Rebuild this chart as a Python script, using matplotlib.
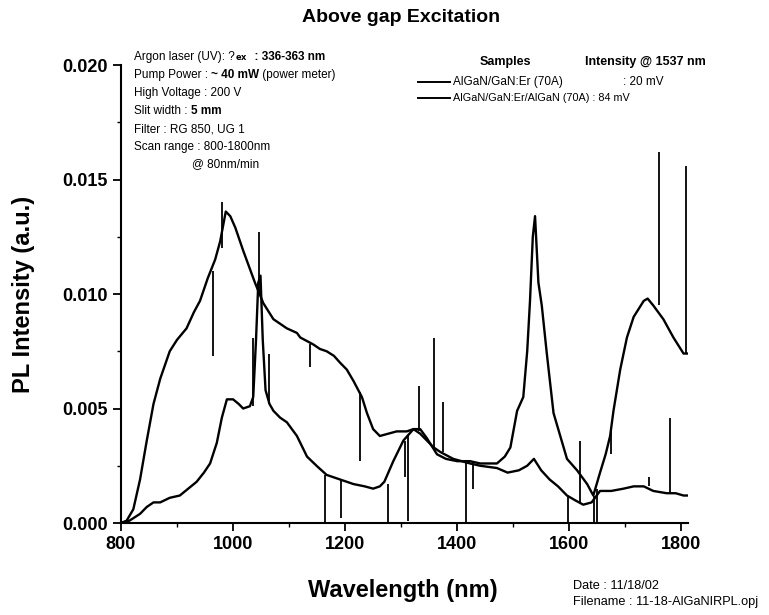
import numpy as np
import matplotlib.pyplot as plt
from matplotlib.lines import Line2D
from matplotlib.ticker import MultipleLocator, FormatStrFormatter

plt.rcParams['font.family'] = ['Liberation Sans', 'DejaVu Sans']

# AlGaN/GaN:Er (70A)  -> 20 mV @ 1537 nm
wl_a = [800, 810, 822, 834, 846, 858, 870, 887, 900, 917, 930, 941, 955, 968, 977,
        987, 995, 1004, 1018, 1027, 1039, 1054, 1072, 1084, 1096, 1114, 1120, 1143,
        1155, 1167, 1180, 1191, 1203, 1215, 1230, 1239, 1250, 1262, 1277, 1292, 1310,
        1322, 1334, 1346, 1358, 1370, 1393, 1423, 1441, 1471, 1490, 1510, 1525, 1537,
        1550, 1565, 1580, 1596, 1610, 1625, 1640, 1655, 1675, 1697, 1715, 1733, 1750,
        1774, 1790, 1804, 1810]
pl_a = [0.0000, 0.0001, 0.0006, 0.0019, 0.0036, 0.0052, 0.0063, 0.0075, 0.0080, 0.0085,
        0.0092, 0.0097, 0.0107, 0.0115, 0.0123, 0.0136, 0.0134, 0.0129, 0.0119, 0.0113,
        0.0105, 0.0096, 0.0089, 0.0087, 0.0085, 0.0083, 0.0081, 0.0078, 0.0076, 0.0075,
        0.0073, 0.0070, 0.0067, 0.0062, 0.0055, 0.0048, 0.0041, 0.0038, 0.0039, 0.0040,
        0.0040, 0.0041, 0.0039, 0.0036, 0.0033, 0.0031, 0.0028, 0.0026, 0.0025, 0.0024,
        0.0022, 0.0023, 0.0025, 0.0028, 0.0023, 0.0019, 0.0016, 0.0012, 0.0010, 0.0008,
        0.0009, 0.0014, 0.0014, 0.0015, 0.0016, 0.0016, 0.0014, 0.0013, 0.0013, 0.0012,
        0.0012]
spk_a_wl = [965, 980, 1047, 1137, 1227, 1331, 1359, 1374, 1415, 1429, 1598, 1620, 1743, 1780]
spk_a_lo = [0.0073, 0.0120, 0.0100, 0.0068, 0.0027, 0.0040, 0.0033, 0.0031, 0.0000, 0.0015,
            0.0000, 0.0009, 0.0016, 0.0013]
spk_a_hi = [0.0110, 0.0140, 0.0127, 0.0078, 0.0057, 0.0060, 0.0081, 0.0053, 0.0026, 0.0026,
            0.0012, 0.0036, 0.0020, 0.0046]

# AlGaN/GaN:Er/AlGaN (70A) -> 84 mV @ 1537 nm
wl_b = [800, 815, 834, 846, 858, 870, 887, 905, 920, 935, 948, 959, 971, 980, 989, 1000,
        1010, 1018, 1030, 1036, 1041, 1045, 1049, 1053, 1058, 1065, 1072, 1084, 1096, 1114,
        1132, 1149, 1167, 1191, 1215, 1235, 1250, 1262, 1270, 1286, 1304, 1322, 1334, 1346,
        1364, 1380, 1400, 1423, 1441, 1471, 1485, 1495, 1507, 1518, 1525, 1530, 1535, 1539,
        1545, 1551, 1560, 1572, 1584, 1596, 1614, 1632, 1643, 1655, 1665, 1673, 1679, 1691,
        1703, 1715, 1733, 1740, 1750, 1768, 1786, 1804, 1810]
pl_b = [0.0000, 0.0001, 0.0004, 0.0007, 0.0009, 0.0009, 0.0011, 0.0012, 0.0015, 0.0018,
        0.0022, 0.0026, 0.0035, 0.0046, 0.0054, 0.0054, 0.0052, 0.0050, 0.0051, 0.0055,
        0.0080, 0.0105, 0.0108, 0.0080, 0.0058, 0.0052, 0.0049, 0.0046, 0.0044, 0.0038,
        0.0029, 0.0025, 0.0021, 0.0019, 0.0017, 0.0016, 0.0015, 0.0016, 0.0018, 0.0027,
        0.0036, 0.0041, 0.0041, 0.0037, 0.0030, 0.0028, 0.0027, 0.0027, 0.0026, 0.0026,
        0.0029, 0.0033, 0.0049, 0.0055, 0.0075, 0.0097, 0.0125, 0.0134, 0.0105, 0.0095,
        0.0074, 0.0048, 0.0038, 0.0028, 0.0023, 0.0017, 0.0012, 0.0022, 0.0030, 0.0038,
        0.0049, 0.0067, 0.0081, 0.0090, 0.0097, 0.0098, 0.0095, 0.0089, 0.0081, 0.0074,
        0.0074]
spk_b_wl = [1036, 1065, 1164, 1193, 1276, 1307, 1312, 1645, 1650, 1675, 1760, 1808]
spk_b_lo = [0.0051, 0.0052, 0.0000, 0.0002, 0.0000, 0.0020, 0.0001, 0.0000, 0.0000, 0.0030,
            0.0095, 0.0074]
spk_b_hi = [0.0081, 0.0074, 0.0021, 0.0019, 0.0017, 0.0036, 0.0038, 0.0012, 0.0015, 0.0042,
            0.0162, 0.0156]

W, H = 769, 615


def fx(px):
    return px / W


def fy(py):
    return 1 - py / H


fig = plt.figure(figsize=(7.69, 6.15), dpi=100)
ax = fig.add_axes([fx(121), fy(523), fx(688) - fx(121), fy(65) - fy(523)])

ax.plot(wl_a, pl_a, color='black', lw=1.7)
ax.vlines(spk_a_wl, spk_a_lo, spk_a_hi, color='black', lw=1.3)
ax.plot(wl_b, pl_b, color='black', lw=1.7)
ax.vlines(spk_b_wl, spk_b_lo, spk_b_hi, color='black', lw=1.3)

ax.set_xlim(800, 1812)
ax.set_ylim(0, 0.020)
ax.spines['top'].set_visible(False)
ax.spines['right'].set_visible(False)
for s in ['left', 'bottom']:
    ax.spines[s].set_linewidth(1.5)
ax.xaxis.set_major_locator(MultipleLocator(200))
ax.xaxis.set_minor_locator(MultipleLocator(100))
ax.yaxis.set_major_locator(MultipleLocator(0.005))
ax.yaxis.set_minor_locator(MultipleLocator(0.0025))
ax.yaxis.set_major_formatter(FormatStrFormatter('%.3f'))
ax.tick_params(which='major', direction='out', length=6, width=1.3, labelsize=13)
ax.tick_params(which='minor', direction='out', length=3, width=1.0)
for lab in ax.get_xticklabels() + ax.get_yticklabels():
    lab.set_fontweight('bold')

fig.text(fx(401), fy(17), 'Above gap Excitation', ha='center', va='center',
         fontsize=14, fontweight='bold')
fig.text(fx(308), fy(597), 'Wavelength (nm)', ha='left', va='baseline',
         fontsize=17, fontweight='bold')
fig.text(fx(24), fy(294), 'PL Intensity (a.u.)', ha='center', va='center',
         rotation=90, fontsize=17, fontweight='bold')

fs = 8.5


def chain(x, y, parts, size=fs):
    # write text pieces one after another, (string, bold?) each
    t = fig.text(fx(x), fy(y), parts[0][0], fontsize=size, va='bottom', ha='left',
                 fontweight='bold' if parts[0][1] else 'normal')
    for s, b in parts[1:]:
        t = ax.annotate(s, xy=(1, 0), xycoords=t, va='bottom', ha='left', fontsize=size,
                        fontweight='bold' if b else 'normal')


chain(134, 63, [('Argon laser (UV): ?', False), (r'$_{\mathbf{ex}}$', True), ('  : 336-363 nm', True)])
chain(134, 81, [('Pump Power : ', False), ('~ 40 mW', True), (' (power meter)', False)])
chain(134, 99, [('High Voltage : 200 V', False)])
chain(134, 117, [('Slit width : ', False), ('5 mm', True)])
chain(134, 135, [('Filter : RG 850, UG 1', False)])
chain(134, 153, [('Scan range : 800-1800nm', False)])
chain(192, 170, [('@ 80nm/min', False)])

# legend block
fig.text(fx(480), fy(62), 'Samples', fontsize=9, fontweight='bold', va='center')
fig.text(fx(585), fy(62), 'Intensity @ 1537 nm', fontsize=9, fontweight='bold', va='center')
fig.add_artist(Line2D([fx(418), fx(450)], [fy(82), fy(82)], color='black', lw=1.4))
fig.add_artist(Line2D([fx(418), fx(450)], [fy(98), fy(98)], color='black', lw=1.4))
fig.text(fx(453), fy(82), 'AlGaN/GaN:Er (70A)', fontsize=8.5, va='center')
fig.text(fx(623), fy(82), ': 20 mV', fontsize=8.5, va='center')
fig.text(fx(453), fy(98), 'AlGaN/GaN:Er/AlGaN (70A) : 84 mV', fontsize=7.8, va='center')

fig.text(fx(573), fy(586), 'Date : 11/18/02', fontsize=9.2, va='center')
fig.text(fx(573), fy(602), 'Filename : 11-18-AlGaNIRPL.opj', fontsize=9.2, va='center')

fig.savefig('out.png', dpi=100)
